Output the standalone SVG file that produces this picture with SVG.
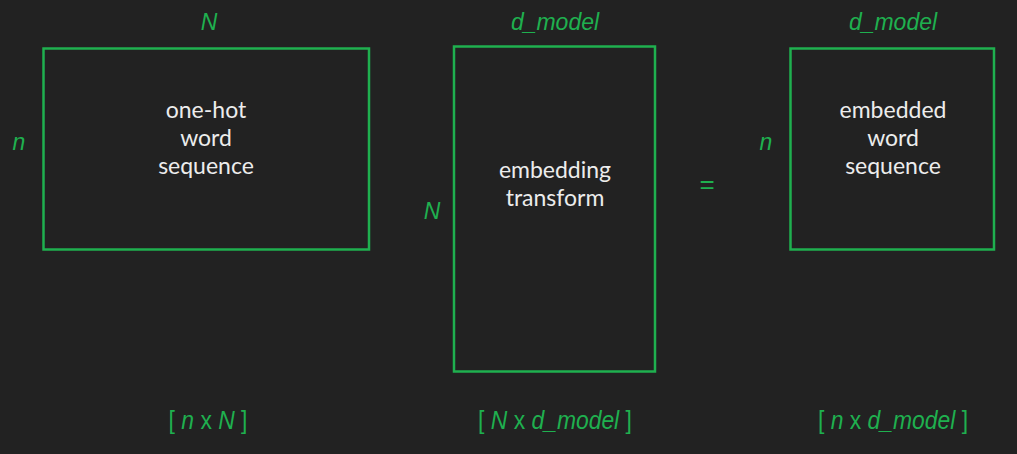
<svg xmlns="http://www.w3.org/2000/svg" width="1017" height="454" viewBox="0 0 1017 454">
<style>
.box{fill:none;stroke:#1fb04f;stroke-width:2.5}
.lbl{fill:#1fb04f;font-family:"Liberation Sans",Arial,sans-serif;font-style:italic;font-size:23px;text-anchor:middle}
.dim{fill:#1fb04f;font-family:"Liberation Sans",Arial,sans-serif;font-size:26px;text-anchor:middle}
.dim .i{font-style:italic}
.txt{fill:#ececec;font-family:Lato,"Open Sans",sans-serif;font-size:23px;text-anchor:middle}
</style>
<rect width="1017" height="454" fill="#222222"/>
<g id="node-onehot">
<rect class="box" x="43.5" y="48.5" width="325.5" height="201"/>
<text class="txt" x="206" y="118">one-hot</text>
<text class="txt" x="206" y="146">word</text>
<text class="txt" x="206" y="174">sequence</text>
<text class="lbl" x="209" y="30">N</text>
<text class="lbl" x="19" y="150">n</text>
</g>
<g id="node-embedding">
<rect class="box" x="454" y="46.5" width="201" height="325"/>
<text class="txt" x="555" y="178">embedding</text>
<text class="txt" x="555" y="206">transform</text>
<text class="lbl" x="555" y="30">d_model</text>
<text class="lbl" x="432" y="219">N</text>
</g>
<g id="node-equals">
<text class="lbl" x="707" y="193" style="font-style:normal;font-size:26px">=</text>
</g>
<g id="node-embedded">
<rect class="box" x="790.5" y="48.5" width="203.5" height="201"/>
<text class="txt" x="893" y="118">embedded</text>
<text class="txt" x="893" y="146">word</text>
<text class="txt" x="893" y="174">sequence</text>
<text class="lbl" x="893" y="30">d_model</text>
<text class="lbl" x="766" y="150">n</text>
</g>
<g id="dims">
<g transform="translate(208,429) scale(0.88,1)"><text class="dim" x="0" y="0">[ <tspan class="i">n</tspan> x <tspan class="i">N</tspan> ]</text></g>
<g transform="translate(555,429) scale(0.88,1)"><text class="dim" x="0" y="0">[ <tspan class="i">N</tspan> x <tspan class="i">d_model</tspan> ]</text></g>
<g transform="translate(893,429) scale(0.88,1)"><text class="dim" x="0" y="0">[ <tspan class="i">n</tspan> x <tspan class="i">d_model</tspan> ]</text></g>
</g>
<g id="connectors"></g>
</svg>
